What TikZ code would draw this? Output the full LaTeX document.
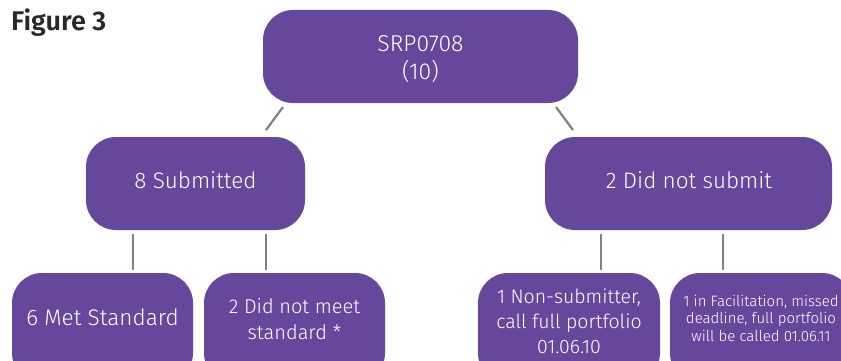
\documentclass[tikz,border=0pt]{standalone}
\usepackage{fontspec}
\setmainfont{Fira Sans Light}
\newfontfamily\figfont{Fira Sans SemiBold}
\definecolor{boxpurple}{RGB}{101,72,155}
\definecolor{linegray}{RGB}{128,128,128}
\definecolor{titlegray}{RGB}{40,40,40}
\begin{document}
\begin{tikzpicture}[x=1pt,y=-1pt,
  box/.style={fill=boxpurple, draw=none, rounded corners=30pt, inner sep=0pt},
  txt/.style={text=white, align=center, inner sep=0pt},
  link/.style={draw=linegray, line width=2.2pt}]
\useasboundingbox (0,0) rectangle (841,361);
\node[anchor=north west, text=titlegray, font=\figfont\fontsize{27}{30}\selectfont, inner sep=0pt] (title) at (11,9) {Figure 3};
% boxes
\node[box, minimum width=315pt, minimum height=93pt] (top) at (420.5,56.5) {};
\node[box, minimum width=219pt, minimum height=93pt] (sub) at (195.5,183.5) {};
\node[box, minimum width=287pt, minimum height=93pt] (dns) at (688.5,183.5) {};
\node[box, minimum width=181pt, minimum height=110pt] (met) at (102.5,328) {};
\node[box, minimum width=181pt, minimum height=110pt] (notmeet) at (294.5,328) {};
\node[box, minimum width=182pt, minimum height=110pt] (nonsub) at (569,328) {};
\node[box, minimum width=182pt, minimum height=110pt] (facil) at (761,328) {};
% texts
\node[txt, font=\fontsize{23}{28}\selectfont] (topT) at (420.5,59) {SRP0708\\(10)};
\node[txt, font=\fontsize{22.5}{27}\selectfont] (subT) at (195.5,180) {8 Submitted};
\node[txt, font=\fontsize{22.5}{27}\selectfont] (dnsT) at (689,180) {2 Did not submit};
\node[txt, font=\fontsize{22.5}{27}\selectfont] (metT) at (102.5,317) {6 Met Standard};
\node[txt, font=\fontsize{20}{25.5}\selectfont] (notmeetT) at (294.5,319) {2 Did not meet\\standard *};
\node[txt, font=\fontsize{19.5}{25}\selectfont] (nonsubT) at (569,321) {1 Non-submitter,\\call full portfolio\\01.06.10};
\node[txt, font=\fontsize{15}{17.5}\selectfont] (facilT) at (761,318) {1 in Facilitation, missed\\deadline, full portfolio\\will be called 01.06.11};
% connectors
\coordinate (t1) at (283,107); \coordinate (t2) at (266,130);
\coordinate (t3) at (556,107); \coordinate (t4) at (573,130);
\draw[link] (t1) -- (t2);
\draw[link] (t3) -- (t4);
\path (133,234) coordinate (s1) (133,270) coordinate (e1)
      (266,234) coordinate (s2) (266,270) coordinate (e2)
      (601,234) coordinate (s3) (601,270) coordinate (e3)
      (723,234) coordinate (s4) (723,270) coordinate (e4);
\draw[link] (s1) -- (e1);
\draw[link] (s2) -- (e2);
\draw[link] (s3) -- (e3);
\draw[link] (s4) -- (e4);
\end{tikzpicture}
\end{document}
